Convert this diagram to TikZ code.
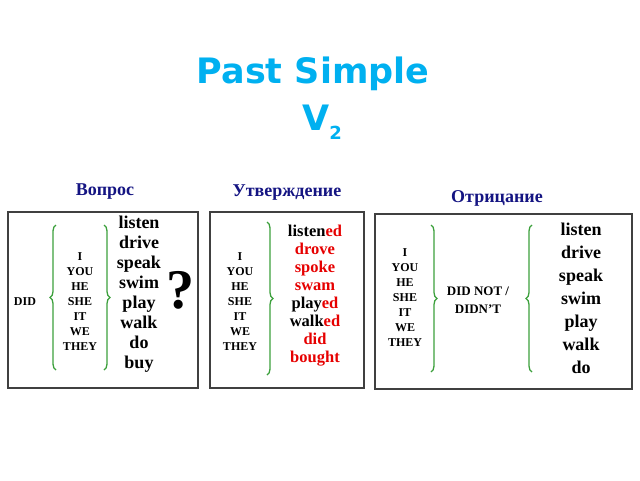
\documentclass[tikz,border=0pt]{standalone}
\usepackage{fontspec}
\setmainfont{Liberation Serif}
\newfontfamily\titlefont{DejaVu Sans}
\usetikzlibrary{decorations.pathreplacing}
\definecolor{ttl}{RGB}{0,176,240}
\definecolor{hd}{RGB}{20,20,130}
\definecolor{brc}{RGB}{60,160,60}
\definecolor{rd}{RGB}{230,0,0}
\begin{document}
\begin{tikzpicture}[x=1pt,y=-1pt,
  panel/.style={draw=black!75,line width=1.2pt},
  head/.style={font=\bfseries\fontsize{18}{18}\selectfont,text=hd},
  pron/.style={font=\bfseries\fontsize{12}{13}\selectfont,align=center,inner sep=0},
  verb/.style={font=\bfseries\fontsize{18}{18}\selectfont,inner sep=0,text height=9pt,text depth=3pt},
  verbb/.style={font=\bfseries\fontsize{16.5}{16.5}\selectfont,inner sep=0,text height=9pt,text depth=3pt},
  br/.style={draw=brc,line width=1.3pt,decorate,decoration={brace,amplitude=6pt}}]
\useasboundingbox (0,0) rectangle (640,480);
\node[font=\titlefont\bfseries\fontsize{35}{35}\selectfont,text=ttl] (t1) at (313,74) {Past Simple};
\node[font=\titlefont\bfseries\fontsize{35}{35}\selectfont,text=ttl] (t2) at (322,122) {V\raisebox{-0.25em}{\fontsize{18}{18}\selectfont 2}};
\node[head] (h1) at (105,192) {Вопрос};
\node[head] (h2) at (287,193) {Утверждение};
\node[head] (h3) at (497,198) {Отрицание};
\draw[panel] (8,212) rectangle (198,388);
\draw[panel] (210,212) rectangle (364,388);
\draw[panel] (375,214) rectangle (632,389);
% box 1
\node[pron] (did) at (25,302) {DID};
\node[pron] (p1) at (80,302) {I\\[2pt]YOU\\[2pt]HE\\[2pt]SHE\\[2pt]IT\\[2pt]WE\\[2pt]THEY};
\coordinate (a1) at (56,370); \coordinate (a2) at (56,225);
\draw[br] (a1) -- (a2);
\coordinate (b1) at (104,225); \coordinate (b2) at (104,370);
\draw[br] (b1) -- (b2);
\foreach \w [count=\i] in {listen,drive,speak,swim,play,walk,do,buy}
  \node[verb] (v1\i) at (139,{225+20*(\i-1)}) {\w};
\node[font=\bfseries\fontsize{56}{56}\selectfont] (q) at (180,290) {?};
% box 2
\node[pron] (p2) at (240,302) {I\\[2pt]YOU\\[2pt]HE\\[2pt]SHE\\[2pt]IT\\[2pt]WE\\[2pt]THEY};
\coordinate (c1) at (267,222); \coordinate (c2) at (267,375);
\draw[br] (c1) -- (c2);
\node[verbb] (w1) at (315,233) {listen\textcolor{rd}{ed}};
\node[verbb,text=rd] (w2) at (315,251) {drove};
\node[verbb,text=rd] (w3) at (315,269) {spoke};
\node[verbb,text=rd] (w4) at (315,287) {swam};
\node[verbb] (w5) at (315,305) {play\textcolor{rd}{ed}};
\node[verbb] (w6) at (315,323) {walk\textcolor{rd}{ed}};
\node[verbb,text=rd] (w7) at (315,341) {did};
\node[verbb,text=rd] (w8) at (315,359) {bought};
% box 3
\node[pron] (p3) at (405,298) {I\\[2pt]YOU\\[2pt]HE\\[2pt]SHE\\[2pt]IT\\[2pt]WE\\[2pt]THEY};
\coordinate (d1) at (431,225); \coordinate (d2) at (431,372);
\draw[br] (d1) -- (d2);
\node[pron,font=\bfseries\fontsize{13}{13}\selectfont] (dn) at (478,300) {DID NOT /\\[5pt]DIDN'T};
\coordinate (e1) at (532,372); \coordinate (e2) at (532,225);
\draw[br] (e1) -- (e2);
\foreach \w [count=\i] in {listen,drive,speak,swim,play,walk,do}
  \node[verb] (v3\i) at (581,{232+23*(\i-1)}) {\w};
\end{tikzpicture}
\end{document}
